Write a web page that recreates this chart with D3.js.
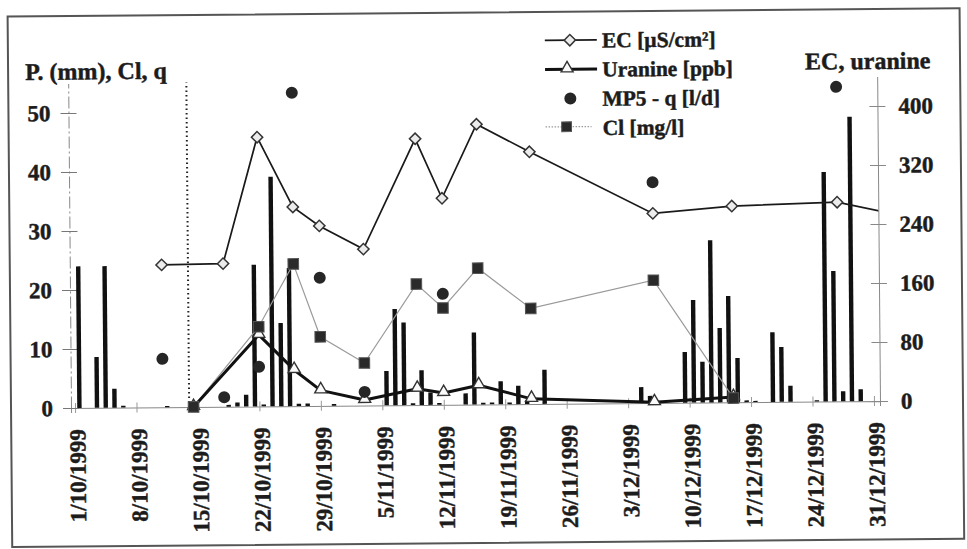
<!DOCTYPE html>
<html>
<head>
<meta charset="utf-8">
<script src="https://cdn.jsdelivr.net/npm/d3@7"></script>
<style>
  html, body { margin: 0; padding: 0; background: #fff; }
  svg { display: block; }
  text { font-family: 'Liberation Serif', 'Times New Roman', serif; font-weight: bold; fill: #1c1c1c; stroke: #1c1c1c; stroke-width: 0.45px; }
</style>
</head>
<body>
<div id="chart"></div>
<script>
// precipitation (left axis, mm)
const rainDates = [
  '1999-10-01', '1999-10-03', '1999-10-04', '1999-10-05', '1999-10-06', '1999-10-11',
  '1999-10-18', '1999-10-19', '1999-10-20', '1999-10-21', '1999-10-22', '1999-10-23',
  '1999-10-24', '1999-10-25', '1999-10-26', '1999-10-27', '1999-10-30',
  '1999-11-05', '1999-11-06', '1999-11-07', '1999-11-08', '1999-11-09', '1999-11-10',
  '1999-11-11', '1999-11-14', '1999-11-15', '1999-11-16', '1999-11-17', '1999-11-18',
  '1999-11-19', '1999-11-20', '1999-11-21', '1999-11-23',
  '1999-12-04', '1999-12-05', '1999-12-09', '1999-12-10', '1999-12-11', '1999-12-12',
  '1999-12-13', '1999-12-14', '1999-12-15', '1999-12-16', '1999-12-17', '1999-12-19',
  '1999-12-20', '1999-12-21', '1999-12-24', '1999-12-25', '1999-12-26', '1999-12-27',
  '1999-12-28', '1999-12-29'
];
const rainMm = [
  24.0, 8.6, 24.0, 3.2, 0.3, 0.2,
  0.3, 0.7, 2.0, 24.0, 0.3, 38.9,
  14.1, 23.4, 0.4, 0.4, 0.3,
  5.8, 16.3, 14.0, 0.3, 5.9, 2.1,
  0.3, 1.9, 12.2, 0.3, 0.3, 3.9,
  0.3, 3.1, 0.6, 5.8,
  2.7, 1.2, 8.6, 17.4, 6.9, 27.5,
  12.6, 18.0, 7.5, 0.3, 0.2, 11.8,
  9.3, 2.7, 0.2, 38.9, 22.1, 1.7,
  48.2, 2.0
];

// EC (right axis)
const ecDates = ['1999-10-11', '1999-10-18', '1999-10-22', '1999-10-26', '1999-10-29', '1999-11-03',
  '1999-11-09', '1999-11-12', '1999-11-16', '1999-11-22', '1999-12-06', '1999-12-15', '1999-12-27', '2000-01-05'];
const ecValues = [193, 194, 365, 270, 244, 212, 361, 280, 380, 342, 257, 266, 270, 247];

// uranine (right axis)
const uranineDates = ['1999-10-14T12:00Z', '1999-10-22', '1999-10-26', '1999-10-29', '1999-11-03', '1999-11-09',
  '1999-11-12', '1999-11-16', '1999-11-22', '1999-12-06', '1999-12-15'];
const uranineValues = [0, 97, 49, 21, 7.5, 22, 16, 26, 7, 1, 7];

// Cl (left axis)
const clDates = ['1999-10-14T12:00Z', '1999-10-22', '1999-10-26', '1999-10-29', '1999-11-03', '1999-11-09',
  '1999-11-12', '1999-11-16', '1999-11-22', '1999-12-06', '1999-12-15'];
const clValues = [0, 13.5, 24.1, 11.7, 7.2, 20.5, 16.4, 23.1, 16.2, 20.8, 0.7];

// MP5 - q (left axis)
const qDates = ['1999-10-11', '1999-10-18', '1999-10-22', '1999-10-26', '1999-10-29', '1999-11-03',
  '1999-11-12', '1999-12-06', '1999-12-27'];
const qValues = [8.2, 1.6, 6.7, 53.1, 21.7, 2.3, 18.8, 37.4, 53.3];

const INJECTION = '1999-10-14';

const leftTicks = [0, 10, 20, 30, 40, 50];
const rightTicks = [0, 80, 160, 240, 320, 400];
const xTickDates = ['1999-10-01', '1999-10-08', '1999-10-15', '1999-10-22', '1999-10-29', '1999-11-05',
  '1999-11-12', '1999-11-19', '1999-11-26', '1999-12-03', '1999-12-10', '1999-12-17', '1999-12-24', '1999-12-31'];

const leftTitle = 'P. (mm), Cl, q';
const rightTitle = 'EC, uranine';
const legendLabels = ['EC [µS/cm²]', 'Uranine [ppb]', 'MP5 - q [l/d]', 'Cl [mg/l]'];

const WIDTH = 967;
const HEIGHT = 549;
const FONT = "'Liberation Serif', 'Times New Roman', serif";

function translate(x, y) {
  return `translate(${x}, ${y})`;
}

const toDate = s => new Date(s);
const zip = (dates, vals) => dates.map((d, i) => ({date: toDate(d), value: vals[i]}));

const rain = zip(rainDates, rainMm);
const ec = zip(ecDates, ecValues);
const uranine = zip(uranineDates, uranineValues);
const cl = zip(clDates, clValues);
const q = zip(qDates, qValues);

const svg = d3.select('#chart').append('svg')
  .attr('width', WIDTH)
  .attr('height', HEIGHT);

// the scanned figure sits slightly tilted
const g = svg.append('g').attr('transform', 'rotate(-0.5, 475, 404)');

g.append('rect')
  .attr('x', 11).attr('y', 12.5)
  .attr('width', 952).attr('height', 530.5)
  .attr('fill', 'none')
  .attr('stroke', '#555')
  .attr('stroke-width', 2);

const x = d3.scaleUtc()
  .domain([new Date('1999-09-30T13:00Z'), new Date('1999-12-31T16:30Z')])
  .range([71, 880]);
const yL = d3.scaleLinear().domain([0, 55]).range([404.5, 80]);
const yR = d3.scaleLinear().domain([0, 440]).range([404.5, 80]);

const dayW = x(toDate('1999-10-02')) - x(toDate('1999-10-01'));
const barW = 4.4;

g.append('clipPath').attr('id', 'plot')
  .append('rect')
  .attr('x', x.range()[0]).attr('y', 0)
  .attr('width', x.range()[1] - x.range()[0])
  .attr('height', HEIGHT);

// axes
const xAxis = g.append('g')
  .attr('transform', translate(0, yL(0)))
  .call(d3.axisBottom(x)
    .tickValues(xTickDates.map(toDate))
    .tickSizeOuter(0)
    .tickSize(5)
    .tickFormat(d3.utcFormat('%-d/%-m/%Y')));
xAxis.select('.domain').attr('stroke', '#888');
xAxis.selectAll('.tick line').attr('y1', -5).attr('stroke', '#999');
xAxis.selectAll('.tick text')
  .attr('transform', 'rotate(-90)')
  .attr('text-anchor', 'end')
  .attr('x', -21)
  .attr('y', 0)
  .attr('dy', '0.42em')
  .attr('font-family', FONT)
  .attr('font-size', 23);

const leftAxis = g.append('g')
  .attr('transform', translate(x.range()[0], 0))
  .call(d3.axisLeft(yL).tickValues(leftTicks).tickSize(8).tickPadding(10).tickSizeOuter(0));
leftAxis.select('.domain')
  .attr('stroke', '#888')
  .attr('stroke-dasharray', '12,3,2,3');
leftAxis.selectAll('.tick line').attr('x1', 8).attr('stroke', '#777');
leftAxis.selectAll('.tick text')
  .attr('font-family', FONT).attr('font-size', 23);

const rightAxis = g.append('g')
  .attr('transform', translate(x.range()[1], 0))
  .call(d3.axisRight(yR).tickValues(rightTicks).tickSize(8).tickPadding(13).tickSizeOuter(0));
rightAxis.select('.domain').attr('stroke', '#888');
rightAxis.selectAll('.tick line').attr('x1', -8).attr('stroke', '#888');
rightAxis.selectAll('.tick text')
  .attr('font-family', FONT).attr('font-size', 23);

// axis titles
g.append('text')
  .attr('x', 28).attr('y', 76)
  .attr('font-size', 24)
  .text(leftTitle);
g.append('text')
  .attr('x', 808).attr('y', 72.5)
  .attr('font-size', 24)
  .text(rightTitle);

// tracer injection
g.append('line')
  .attr('x1', x(toDate(INJECTION))).attr('x2', x(toDate(INJECTION)))
  .attr('y1', yL(0)).attr('y2', yL(55))
  .attr('stroke', '#222')
  .attr('stroke-width', 2)
  .attr('stroke-dasharray', '1.5,3');

// precipitation bars
g.append('g').selectAll('rect')
  .data(rain)
  .join('rect')
  .attr('x', d => x(d.date) + dayW / 2 - barW / 2)
  .attr('width', barW)
  .attr('y', d => yL(d.value))
  .attr('height', d => yL(0) - yL(d.value))
  .attr('fill', '#111');

const plot = g.append('g').attr('clip-path', 'url(#plot)');

const lineL = d3.line().x(d => x(d.date)).y(d => yL(d.value));
const lineR = d3.line().x(d => x(d.date)).y(d => yR(d.value));

plot.append('path')
  .datum(cl)
  .attr('fill', 'none')
  .attr('stroke', '#9a9a9a')
  .attr('stroke-width', 1.2)
  .attr('d', lineL);

plot.append('path')
  .datum(ec)
  .attr('fill', 'none')
  .attr('stroke', '#1a1a1a')
  .attr('stroke-width', 1.7)
  .attr('d', lineR);

plot.append('path')
  .datum(uranine)
  .attr('fill', 'none')
  .attr('stroke', '#111')
  .attr('stroke-width', 3)
  .attr('stroke-linejoin', 'round')
  .attr('d', lineR);

const inRange = d => d.date >= x.domain()[0] && d.date <= x.domain()[1];

const diamond = d3.symbol(d3.symbolSquare, 64)();
const triangle = d3.symbol(d3.symbolTriangle, 62)();
const square = d3.symbol(d3.symbolSquare, 112)();

g.append('g').selectAll('path')
  .data(uranine)
  .join('path')
  .attr('d', triangle)
  .attr('transform', d => translate(x(d.date), yR(d.value) - 1))
  .attr('fill', '#fafafa')
  .attr('stroke', '#333')
  .attr('stroke-width', 1.4);

g.append('g').selectAll('path')
  .data(cl)
  .join('path')
  .attr('d', square)
  .attr('transform', d => translate(x(d.date), yL(d.value)))
  .attr('fill', '#2a2a2a')
  .attr('stroke', '#555')
  .attr('stroke-width', 1);

g.append('g').selectAll('path')
  .data(ec.filter(inRange))
  .join('path')
  .attr('d', diamond)
  .attr('transform', d => `${translate(x(d.date), yR(d.value))} rotate(45)`)
  .attr('fill', '#ececec')
  .attr('stroke', '#333')
  .attr('stroke-width', 1.5);

g.append('g').selectAll('circle')
  .data(q)
  .join('circle')
  .attr('cx', d => x(d.date))
  .attr('cy', d => yL(d.value))
  .attr('r', 6)
  .attr('fill', '#262626');

// legend
const legend = g.append('g').attr('transform', translate(548, 41));
const rowH = 29.2;
const rows = legend.selectAll('g')
  .data(legendLabels)
  .join('g')
  .attr('transform', (d, i) => translate(0, i * rowH));

rows.append('text')
  .attr('x', 57)
  .attr('y', 7.5)
  .attr('font-size', 21.5)
  .text(d => d);

const r0 = d3.select(rows.nodes()[0]);
r0.append('line').attr('x1', 0).attr('x2', 52).attr('stroke', '#1a1a1a').attr('stroke-width', 1.7);
r0.append('path').attr('d', diamond).attr('transform', translate(25, 0) + ' rotate(45)')
  .attr('fill', '#ececec').attr('stroke', '#333').attr('stroke-width', 1.5);

const r1 = d3.select(rows.nodes()[1]);
r1.append('line').attr('x1', 0).attr('x2', 52).attr('stroke', '#111').attr('stroke-width', 3);
r1.append('path').attr('d', triangle).attr('transform', translate(22, -1))
  .attr('fill', '#fafafa').attr('stroke', '#333').attr('stroke-width', 1.4);

const r2 = d3.select(rows.nodes()[2]);
r2.append('circle').attr('cx', 25).attr('r', 6).attr('fill', '#262626');

const r3 = d3.select(rows.nodes()[3]);
r3.append('line').attr('x1', 0).attr('x2', 46).attr('y1', -1).attr('y2', -1)
  .attr('stroke', '#9a9a9a').attr('stroke-width', 1.2).attr('stroke-dasharray', '1.5,1.5');
r3.append('path').attr('d', d3.symbol(d3.symbolSquare, 95)()).attr('transform', translate(21, -1))
  .attr('fill', '#2a2a2a').attr('stroke', '#555');
</script>
</body>
</html>
